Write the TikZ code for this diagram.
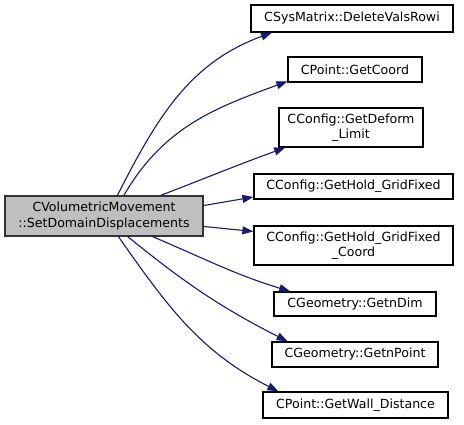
\documentclass[tikz,border=0pt]{standalone}
\usepackage{fontspec}
\setmainfont{DejaVu Sans}
\usetikzlibrary{arrows.meta}
\definecolor{edgeblue}{HTML}{191970}
\definecolor{mainfill}{HTML}{BFBFBF}
\definecolor{mainborder}{HTML}{333333}
\begin{document}
\begin{tikzpicture}[x=1pt,y=-1pt,
  box/.style={draw=black,fill=white,line width=1.2pt,inner sep=0pt,align=center,
    font=\fontsize{12.6}{15.5}\selectfont},
  mainbox/.style={box,draw=mainborder,fill=mainfill},
  call/.style={draw=edgeblue,line width=1.1pt,
    -{Triangle[length=11pt,width=8pt,fill=edgeblue]}}]
\useasboundingbox (0,0) rectangle (464,424);
\node[mainbox,minimum width=198pt,minimum height=40pt] (main) at (104,216)
  {CVolumetricMovement\\::SetDomainDisplacements};
\node[box,minimum width=202pt,minimum height=27pt] (n1) at (352,18.5) {CSysMatrix::DeleteValsRowi};
\node[box,minimum width=134pt,minimum height=25pt] (n2) at (355,69.5) {CPoint::GetCoord};
\node[box,minimum width=144pt,minimum height=39pt] (n3) at (351,127.5) {CConfig::GetDeform\\\_Limit};
\node[box,minimum width=199pt,minimum height=25pt] (n4) at (353.5,186.5) {CConfig::GetHold\_GridFixed};
\node[box,minimum width=199pt,minimum height=39pt] (n5) at (353.5,245.5) {CConfig::GetHold\_GridFixed\\\_Coord};
\node[box,minimum width=162pt,minimum height=24pt] (n6) at (355,304) {CGeometry::GetnDim};
\node[box,minimum width=166pt,minimum height=25pt] (n7) at (355,354.5) {CGeometry::GetnPoint};
\node[box,minimum width=185pt,minimum height=26pt] (n8) at (355.5,405) {CPoint::GetWall\_Distance};
\draw[call] (main.57) to[out=63,in=200] (n1.190.3);
\draw[call] (main.46.5) to[out=60,in=200] (n2.190.8);
\draw[call] (main.20.3) to[out=21,in=200] (n3.197.2);
\draw[call] (main.6.9) -- (n4.186.6);
\draw[call] (main.-6.9) -- (n5.172.8);
\draw[call] (main.-23.5) to[out=-23,in=163] (n6.169.5);
\draw[call] (main.-41) to[out=-39,in=153] (n7.169.9);
\draw[call] (main.-55) to[out=-55,in=153] (n8.170.2);
\end{tikzpicture}
\end{document}
